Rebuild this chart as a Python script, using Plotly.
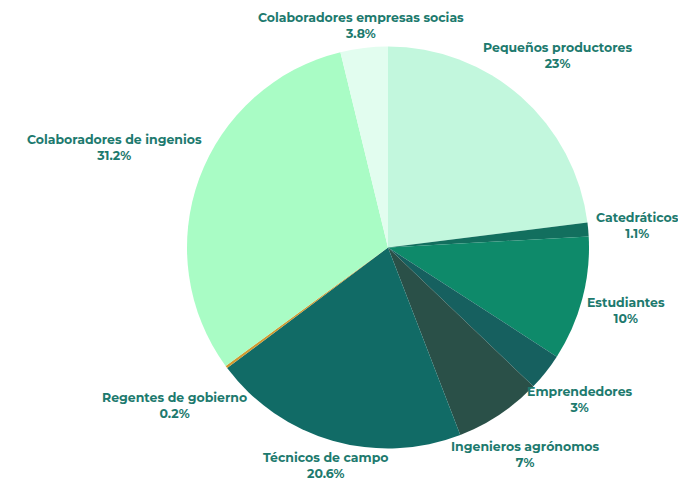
import math
import plotly.graph_objects as go

# Slices, clockwise from 12 o'clock
LABELS = ['Pequeños productores', 'Catedráticos', 'Estudiantes', 'Emprendedores',
          'Ingenieros agrónomos', 'Técnicos de campo', 'Regentes de gobierno',
          'Colaboradores de ingenios', 'Colaboradores empresas socias']
VALUES = [23, 1.1, 10, 3, 7, 20.6, 0.2, 31.2, 3.8]
COLORS = ['#c2f7dd', '#126f5e', '#0e8a6a', '#16605f', '#2a5048', '#116b66',
          '#d09a30', '#a9fcc5', '#e2fdef']

TEXT_COLOR = '#1d7a6e'
FONT = 'Montserrat, Open Sans, sans-serif'

W, H = 678, 481
# pie placement in pixels
CX, CY, R = 388, 247.5, 201
DOM_X = [(CX - R) / W, (CX + R) / W]
DOM_Y = [1 - (CY + R) / H, 1 - (CY - R) / H]

fig = go.Figure(go.Pie(
    labels=LABELS,
    values=VALUES,
    sort=False,
    direction='clockwise',
    rotation=0,
    marker=dict(colors=COLORS, line=dict(width=0)),
    textinfo='none',
    hoverinfo='label+value',
    showlegend=False,
    domain=dict(x=DOM_X, y=DOM_Y),
))

# labels outside the pie, like datalabels anchored at the slice end
total = sum(VALUES)
cum = 0
CHAR_W, BOX_H, GAP = 7.1, 20, 7
for lab, val in zip(LABELS, VALUES):
    mid = (cum + val / 2) / total * 2 * math.pi
    cum += val
    s, c = math.sin(mid), math.cos(mid)
    half_w = len(lab) * CHAR_W / 2
    ext = math.hypot(half_w * s, BOX_H / 2 * c)
    d = R + GAP + ext
    px = CX + s * d
    py = CY - c * d
    fig.add_annotation(
        x=px / W, y=1 - py / H, xref='paper', yref='paper',
        text='<b>%s</b><br><b>%s%%</b>' % (lab, val),
        showarrow=False, xanchor='center', yanchor='middle',
        font=dict(family=FONT, size=12.5, color=TEXT_COLOR),
    )

fig.update_layout(
    width=W, height=H,
    margin=dict(l=0, r=0, t=0, b=0),
    paper_bgcolor='white',
    plot_bgcolor='white',
)

# drop the default page margin so the figure fills the window exactly
fig.write_html("out.html", config={'displayModeBar': False},
               post_script="document.body.style.margin='0';document.body.style.overflow='hidden';")
